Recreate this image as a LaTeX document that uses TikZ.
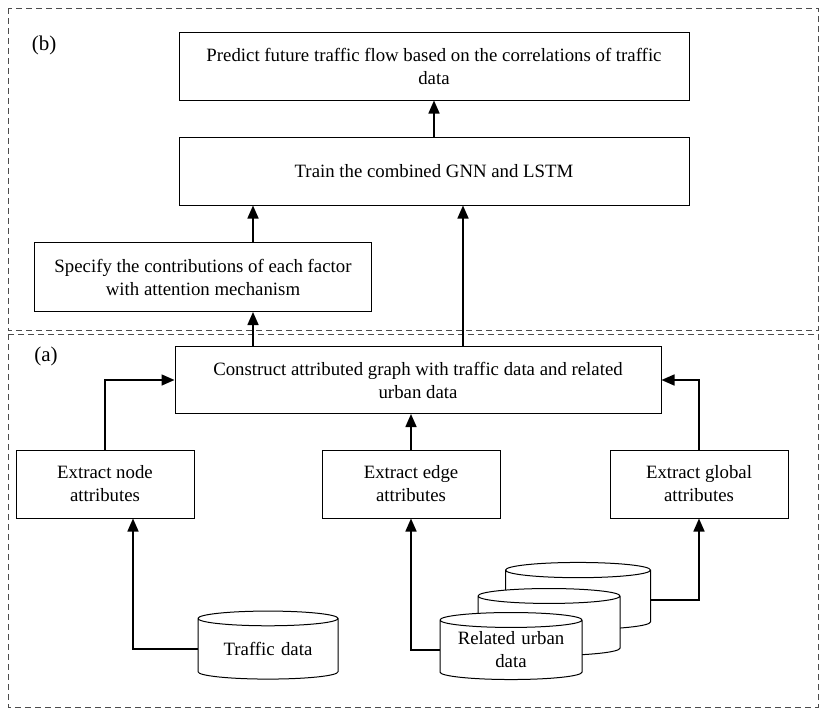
\documentclass[tikz,border=0pt]{standalone}
\usepackage{fontspec}
\setmainfont{Liberation Serif}
\usetikzlibrary{shapes.geometric}
\usetikzlibrary{arrows.meta}
\tikzset{stepbox/.style={rectangle, draw, line width=1pt, fill=white, align=center, inner sep=0pt, font=\fontsize{18.8}{23}\selectfont}}
\tikzset{store/.style={cylinder, shape border rotate=90, draw, line width=1pt, fill=white, aspect=0.105, align=center, inner sep=0pt, text width=142, font=\fontsize{18.8}{23}\selectfont}}
\tikzset{flow/.style={line width=1.6pt, -{Triangle[length=13pt,width=11pt]}}}
\tikzset{panel/.style={draw=black!70, line width=1pt, dash pattern=on 6pt off 4pt}}

\begin{document}
\begin{tikzpicture}[x=1pt,y=-1pt]
  \useasboundingbox (0,0) rectangle (827,715);
  % the two parts
  \draw[panel] (8,8) rectangle (818,330);
  \draw[panel] (8,334) rectangle (818,707);
  \node[font=\fontsize{21}{25}\selectfont] (lb) at (44,45) {(b)};
  \node[font=\fontsize{21}{25}\selectfont] (la) at (46,356) {(a)};

  % steps
  \node[stepbox, minimum width=510, minimum height=68] (predict) at (434,66) {Predict future traffic flow based on the correlations of traffic\\data};
  \node[stepbox, minimum width=510, minimum height=68] (train) at (434,171) {Train the combined GNN and LSTM};
  \node[stepbox, minimum width=337, minimum height=69] (specify) at (203,277) {Specify the contributions of each factor\\with attention mechanism};
  \node[stepbox, minimum width=486, minimum height=67] (construct) at (418,380) {Construct attributed graph with traffic data and related\\urban data};
  \foreach \x/\lab/\txt in {
    105/node/node,
    411/edge/edge,
    699/global/global%
  } {
    \node[stepbox, minimum width=178, minimum height=68] (\lab) at (\x,484) {Extract \txt\\attributes};
  }

  % data sources
  \node[store, text width=140, minimum height=68] (traffic) at (268,649) {Traffic data};
  \node[store, text width=145, minimum height=67] (back) at (578,600) {};
  \node[store, minimum height=67] (middle) at (549,626) {};
  \node[store, minimum height=67] (urban) at (511,650) {Related urban\\data};

  % connectors
  \coordinate (attn) at (253,0);
  \coordinate (gnn) at (463,0);
  \draw[flow] (train.north) -- (predict.south);
  \draw[flow] (specify.north -| attn) -- (train.south -| attn);
  \draw[flow] (construct.north -| gnn) -- (train.south -| gnn);
  \draw[flow] (construct.north -| attn) -- (specify.south -| attn);
  \draw[flow] (node.north) |- (construct.west);
  \draw[flow] (global.north) |- (construct.east);
  \draw[flow] (edge.north) -- (edge.north |- construct.south);
  \draw[flow] (traffic.west) -| ([xshift=28]node.south);
  \draw[flow] (urban.west) -| (edge.south);
  \draw[flow] (back.east) -| (global.south);
\end{tikzpicture}
\end{document}
